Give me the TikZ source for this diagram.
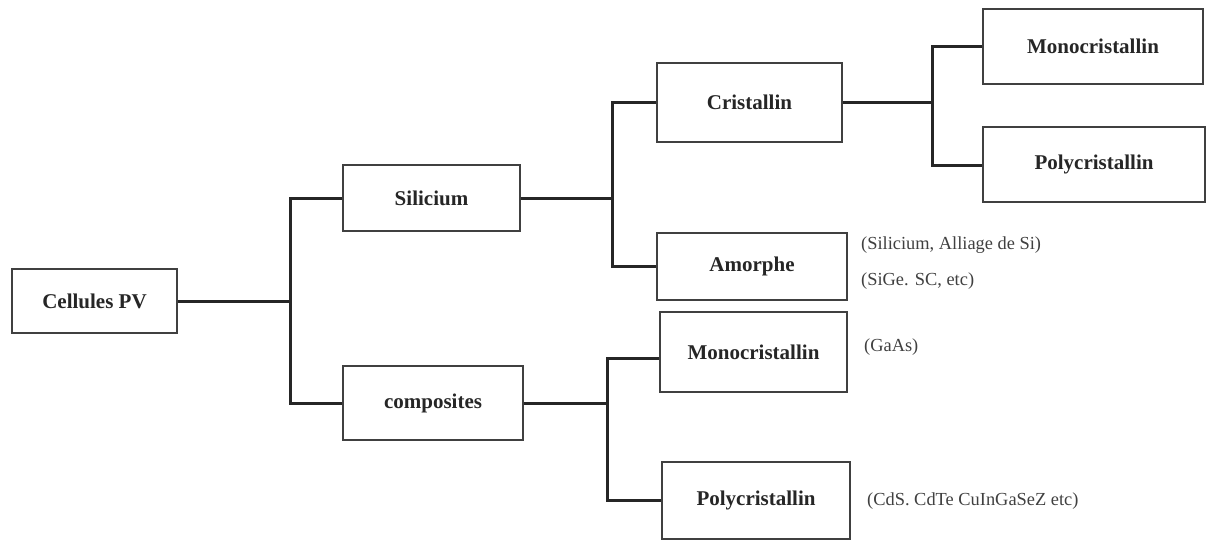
\documentclass[tikz,border=0pt]{standalone}
\usepackage{fontspec}
\setmainfont{Liberation Serif}
\begin{document}
\begin{tikzpicture}[x=1pt,y=-1pt,
  box/.style={draw=black!75, line width=1.8pt, fill=white, inner sep=0pt,
    font=\fontsize{21}{24}\selectfont\bfseries, text=black!85},
  conn/.style={draw=black!85, line width=3pt},
  note/.style={anchor=west, inner sep=0pt, font=\fontsize{18.4}{21}\selectfont, text=black!75}]
\useasboundingbox (0,0) rectangle (1208,541);
% boxes: center + size
\node[box, minimum width=165pt, minimum height=64pt] (cell) at (94.5,301) {Cellules PV};
\node[box, minimum width=177pt, minimum height=66pt] (sil) at (431.5,198) {Silicium};
\node[box, minimum width=180pt, minimum height=74pt] (comp) at (433,403) {composites};
\node[box, minimum width=185pt, minimum height=79pt] (crist) at (749.5,102.5) {Cristallin};
\node[box, minimum width=190pt, minimum height=67pt] (amor) at (752,266.5) {Amorphe};
\node[box, minimum width=187pt, minimum height=80pt] (cmono) at (753.5,352) {Monocristallin};
\node[box, minimum width=188pt, minimum height=77pt] (cpoly) at (756,500.5) {Polycristallin};
\node[box, minimum width=220pt, minimum height=75pt] (smono) at (1093,46.5) {Monocristallin};
\node[box, minimum width=222pt, minimum height=75pt] (spoly) at (1094,164.5) {Polycristallin};
% branch points, level with the parent box
\coordinate (j1) at (290,0 |- cell.east);
\coordinate (j2) at (612,0 |- sil.east);
\coordinate (j3) at (607,0 |- comp.east);
\coordinate (j4) at (932,0 |- crist.east);
% connectors
\draw[conn] (cell.east) -- (j1);
\draw[conn] (j1) |- (sil.west);
\draw[conn] (j1) |- (comp.west);
\draw[conn] (sil.east) -- (j2);
\draw[conn] (j2) |- (crist.west);
\draw[conn] (j2) |- (amor.west);
\draw[conn] (comp.east) -- (j3);
\draw[conn] (j3) |- ([yshift=-6pt]cmono.west);
\draw[conn] (j3) |- (cpoly.west);
\draw[conn] (crist.east) -- (j4);
\draw[conn] (j4) |- (smono.west);
\draw[conn] (j4) |- ([yshift=-1pt]spoly.west);
% annotations
\node[note] (n1) at (861,245) {(Silicium, Alliage de Si)};
\node[note] (n2) at (861,281) {(SiGe. SC, etc)};
\node[note] (n3) at (864,347) {(GaAs)};
\node[note] (n4) at (867,501) {(CdS. CdTe CuInGaSeZ etc)};
\end{tikzpicture}
\end{document}
